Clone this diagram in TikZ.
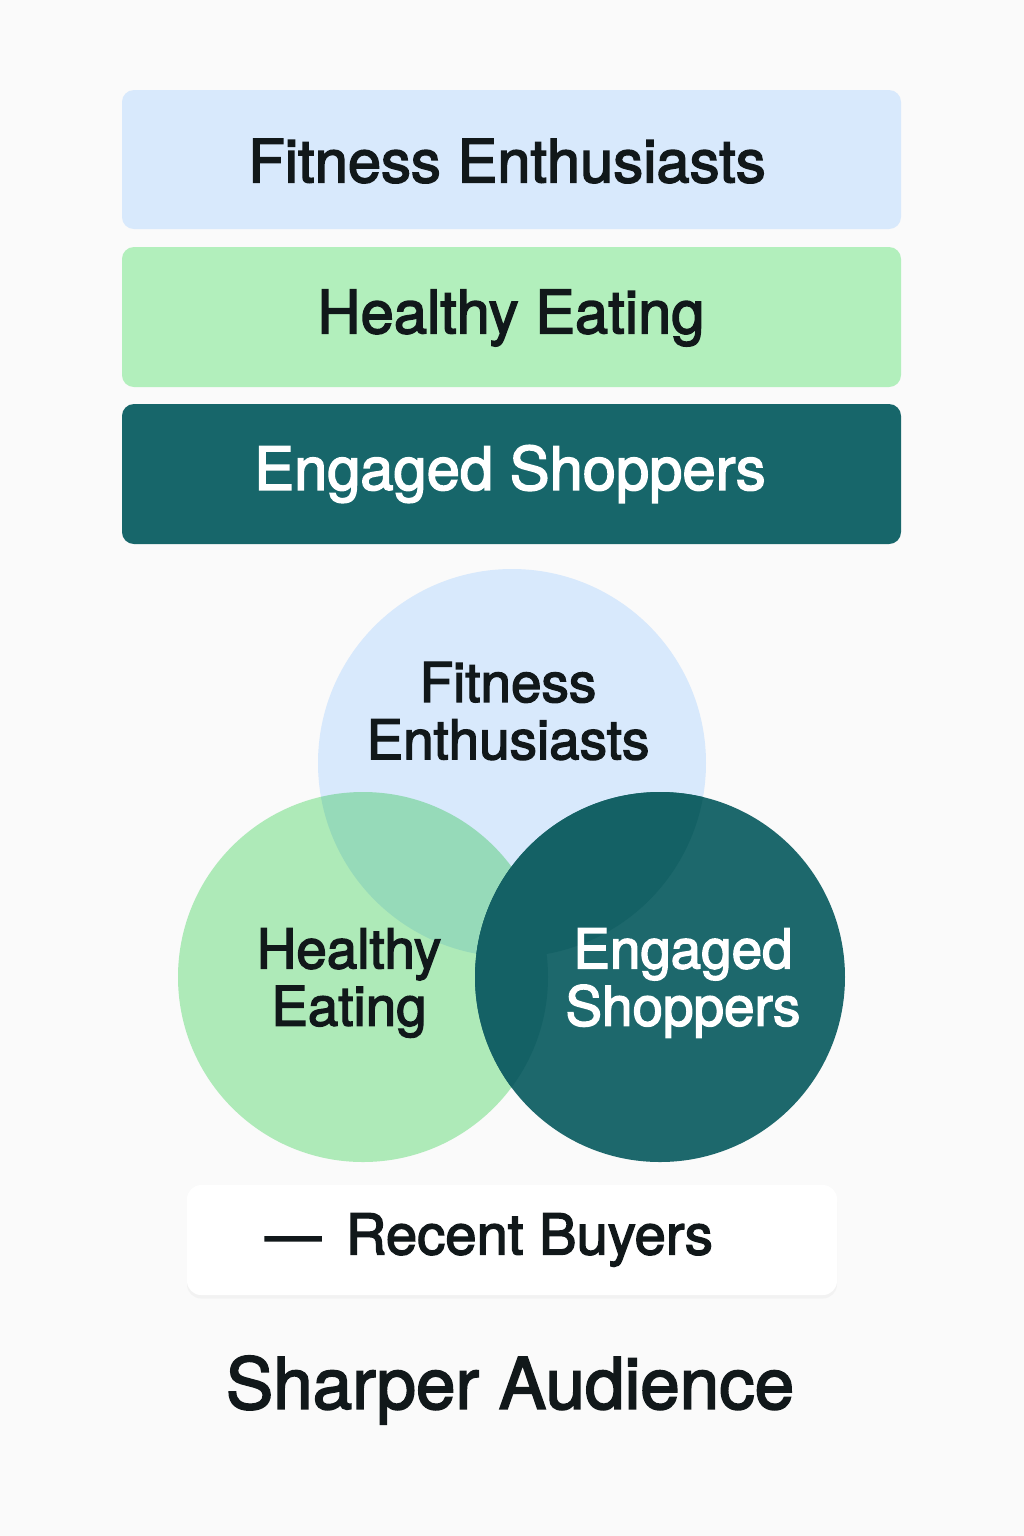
\documentclass[tikz,border=0pt]{standalone}
\usepackage{fontspec}
\setmainfont{TeX Gyre Heros}
\newfontfamily\heavysans{TeX Gyre Heros}[FakeBold=2.5]
\usepackage{xcolor}
\usepackage{tikz}
\usetikzlibrary{positioning, shadows}
\definecolor{paper}{RGB}{250, 250, 250}
\definecolor{fitblue}{RGB}{216, 233, 252}
\definecolor{eatgreen}{RGB}{178, 239, 188}
\definecolor{shopteal}{RGB}{23, 102, 106}
\definecolor{vennteal}{RGB}{29, 104, 108}
\definecolor{deepteal}{RGB}{20, 97, 101}
\definecolor{ink}{RGB}{17, 24, 26}

\begin{document}
\begin{tikzpicture}[x=0.1mm, y=-0.1mm,
    barlabel/.style={font=\heavysans\fontsize{17pt}{20pt}\selectfont, text=ink},
    venlabel/.style={font=\heavysans\fontsize{15.6pt}{16.3pt}\selectfont, text=ink, align=center}]
                \useasboundingbox[fill=paper] (0,0) rectangle (1024,1536);

                % segment bars
                \draw[fill=fitblue, draw=none, rounded corners=3.4pt] (122,90) rectangle (901,229);
                \node[barlabel] (barFit) at (507,161) {Fitness Enthusiasts};
                \draw[fill=eatgreen, draw=none, rounded corners=3.4pt] (122,247) rectangle (901,387);
                \node[barlabel] (barEat) at (511,318) {Healthy Eating};
                \draw[fill=shopteal, draw=none, rounded corners=3.4pt] (122,404) rectangle (901,544);
                \node[barlabel, text=white] (barShop) at (510,474) {Engaged Shoppers};

                % overlap of the three
                \fill[fitblue] (512,763) circle (194);
                \fill[eatgreen, blend mode=multiply] (363,977) circle (185);
                \fill[vennteal] (660,977) circle (185);
                \begin{scope}
                    \clip (660,977) circle (185);
                    \fill[deepteal] (512,763) circle (194);
                    \fill[deepteal] (363,977) circle (185);
                \end{scope}
                \node[venlabel] (venFit) at (508,711) {Fitness\\Enthusiasts};
                \node[venlabel] (venEat) at (349,983) {Healthy\\Eating};
                \node[venlabel, text=white] (venShop) at (683,983) {Engaged\\Shoppers};

                % legend and title
                \draw[fill=white, draw=none, rounded corners=4pt,
                      drop shadow={shadow xshift=0pt, shadow yshift=-1pt, opacity=0.06}] (187,1185) rectangle (837,1295);
                \node[font=\heavysans\fontsize{16pt}{19pt}\selectfont, text=ink] (legend) at (489,1240) {—\hspace{7pt}Recent Buyers};
                \node[font=\heavysans\fontsize{20.2pt}{23pt}\selectfont, text=ink] (title) at (510,1390) {Sharper Audience};
            \end{tikzpicture}
\end{document}
